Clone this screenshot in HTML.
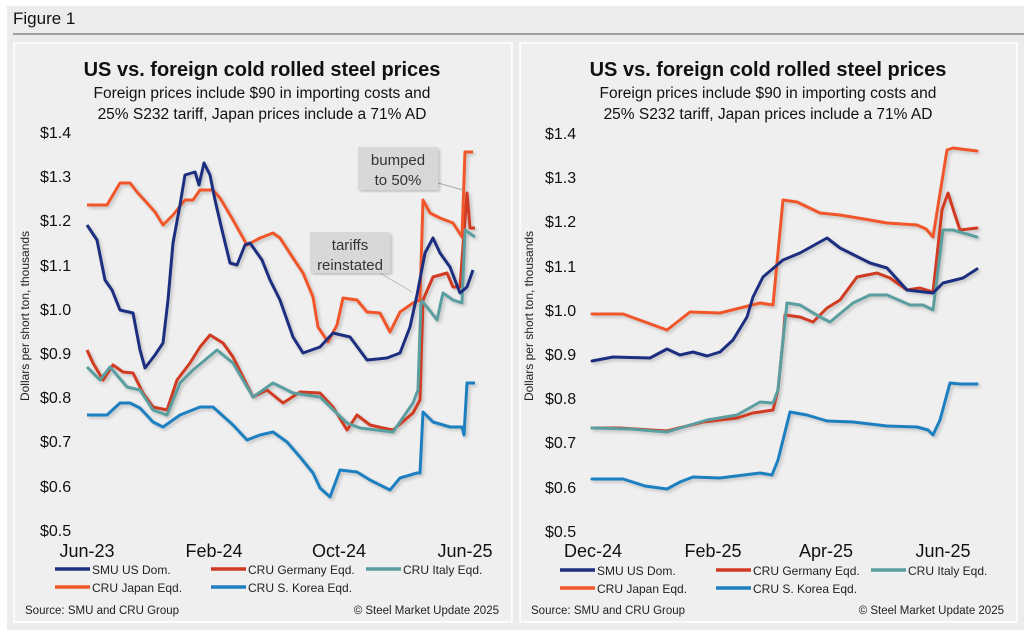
<!DOCTYPE html>
<html><head><meta charset="utf-8"><style>
html,body{margin:0;padding:0;background:#fff;}
svg{display:block;font-family:"Liberation Sans",Arial,sans-serif;}
</style></head><body>
<svg width="1024" height="630" viewBox="0 0 1024 630" xmlns="http://www.w3.org/2000/svg">
<defs>
<filter id="sh" x="-5%" y="-5%" width="110%" height="110%"><feDropShadow dx="2" dy="2" stdDeviation="1.5" flood-color="#000" flood-opacity="0.2"/></filter>
</defs>
<rect x="7" y="6" width="1017" height="624" fill="#ececec"/>
<text x="13" y="24" font-size="17" fill="#111">Figure 1</text>
<line x1="13" y1="34" x2="1024" y2="34" stroke="#555" stroke-width="1"/>
<rect x="14" y="43" width="498" height="579" fill="#efefef" stroke="#fff" stroke-width="1.5"/>
<rect x="520" y="43" width="497" height="579" fill="#efefef" stroke="#fff" stroke-width="1.5"/>

<!-- LEFT -->
<g text-anchor="middle" fill="#111">
<text x="262" y="76" font-size="20" font-weight="bold">US vs. foreign cold rolled steel prices</text>
<text x="262" y="98" font-size="15.5">Foreign prices include $90 in importing costs and</text>
<text x="262" y="119" font-size="15.5">25% S232 tariff, Japan prices include a 71% AD</text>
</g>
<g font-size="16" fill="#111">
<text x="40" y="138">$1.4</text><text x="40" y="182">$1.3</text><text x="40" y="226">$1.2</text><text x="40" y="271">$1.1</text><text x="40" y="315">$1.0</text><text x="40" y="359">$0.9</text><text x="40" y="403">$0.8</text><text x="40" y="447">$0.7</text><text x="40" y="492">$0.6</text><text x="40" y="536">$0.5</text>
</g>
<text transform="translate(29,316) rotate(-90)" font-size="12" fill="#222" text-anchor="middle">Dollars per short ton, thousands</text>
<g font-size="18" fill="#111" text-anchor="middle">
<text x="87" y="557">Jun-23</text><text x="214" y="557">Feb-24</text><text x="339" y="557">Oct-24</text><text x="465" y="557">Jun-25</text>
</g>
<g fill="none" stroke-width="3" stroke-linejoin="round" filter="url(#sh)">
<polyline stroke="#1f8fcf" stroke-opacity="1" points="87,415 107,415 120,403 130,403 140,408 153,422 163,427 180,415 200,407 213,407 233,425 247,440 260,435 273,432 287,442 300,457 313,473 320,488 330,497 340,470 357,472 370,480 390,490 400,478 417,473 420,473 423,412 433,422 450,427 462,427 464,435 467,383 475,383" style="stroke:#1f7fc0"/>
<polyline stroke="#d03a22" points="87,350 93,363 103,380 113,365 123,372 133,373 143,393 153,407 167,410 177,380 190,363 200,347 210,335 223,343 233,357 253,397 267,390 283,403 300,392 320,393 333,407 347,430 357,415 370,425 383,428 393,430 413,413 420,400 423,300 433,277 447,273 453,287 460,287 467,193 470,228 475,228"/>
<polyline stroke="#5a9ea0" points="87,367 100,380 110,367 127,387 140,390 153,410 167,415 180,383 193,370 217,350 233,363 253,397 273,383 293,393 320,397 347,423 360,428 393,432 413,403 418,390 421,300 427,307 437,320 443,293 453,300 462,303 465,230 475,237"/>
<polyline stroke="#f0572a" points="87,205 107,205 120,183 130,183 137,192 147,203 155,212 163,225 173,215 185,200 193,200 200,190 213,190 220,198 233,220 247,245 260,238 273,233 280,238 293,258 303,273 313,297 318,327 328,342 337,325 343,298 357,300 367,312 380,313 390,332 400,312 413,303 420,300 423,200 430,213 440,218 453,223 462,237 465,152 473,152"/>
<polyline stroke="#1f2f7f" points="87,225 97,240 105,280 112,290 120,310 133,313 140,350 145,368 155,355 163,343 168,300 173,243 180,205 185,175 195,172 199,185 204,163 210,175 215,200 222,230 230,263 237,265 245,245 250,243 262,260 270,280 280,300 293,337 303,353 320,347 333,333 350,337 367,360 387,358 400,353 410,327 417,295 425,253 433,238 440,253 450,267 460,293 467,287 473,270"/>
</g>
<!-- annotations -->
<line x1="438" y1="183" x2="463" y2="190" stroke="#aaa" stroke-width="1"/>
<rect x="358" y="147" width="80" height="43" fill="#d8d8d8" filter="url(#sh)"/>
<text x="398" y="165" font-size="15" text-anchor="middle" fill="#333">bumped</text>
<text x="398" y="185" font-size="15" text-anchor="middle" fill="#333">to 50%</text>
<line x1="380" y1="273" x2="412" y2="292" stroke="#bbb" stroke-width="1"/>
<rect x="310" y="232" width="80" height="41" fill="#d8d8d8" filter="url(#sh)"/>
<text x="350" y="250" font-size="15" text-anchor="middle" fill="#333">tariffs</text>
<text x="350" y="270" font-size="15" text-anchor="middle" fill="#333">reinstated</text>
<!-- legend left -->
<g stroke-width="3.5">
<line x1="55" y1="569" x2="90" y2="569" stroke="#1f2f7f"/><line x1="211" y1="569" x2="246" y2="569" stroke="#d03a22"/><line x1="366" y1="569" x2="401" y2="569" stroke="#5a9ea0"/>
<line x1="55" y1="587" x2="90" y2="587" stroke="#f0572a"/><line x1="211" y1="587" x2="246" y2="587" stroke="#1f7fc0"/>
</g>
<g font-size="12" fill="#222">
<text x="92" y="574">SMU US Dom.</text><text x="248" y="574">CRU Germany Eqd.</text><text x="403" y="574">CRU Italy Eqd.</text>
<text x="92" y="592">CRU Japan Eqd.</text><text x="248" y="592">CRU S. Korea Eqd.</text>
</g>
<text x="25" y="614" font-size="11.5" fill="#222">Source: SMU and CRU Group</text>
<text x="499" y="614" font-size="11.5" fill="#222" text-anchor="end">© Steel Market Update 2025</text>

<!-- RIGHT -->
<g text-anchor="middle" fill="#111">
<text x="768" y="76" font-size="20" font-weight="bold">US vs. foreign cold rolled steel prices</text>
<text x="768" y="98" font-size="15.5">Foreign prices include $90 in importing costs and</text>
<text x="768" y="119" font-size="15.5">25% S232 tariff, Japan prices include a 71% AD</text>
</g>
<g font-size="16" fill="#111">
<text x="545" y="139">$1.4</text><text x="545" y="183">$1.3</text><text x="545" y="227">$1.2</text><text x="545" y="272">$1.1</text><text x="545" y="316">$1.0</text><text x="545" y="360">$0.9</text><text x="545" y="404">$0.8</text><text x="545" y="448">$0.7</text><text x="545" y="493">$0.6</text><text x="545" y="537">$0.5</text>
</g>
<text transform="translate(533,316) rotate(-90)" font-size="12" fill="#222" text-anchor="middle">Dollars per short ton, thousands</text>
<g font-size="18" fill="#111" text-anchor="middle">
<text x="593" y="557">Dec-24</text><text x="713" y="557">Feb-25</text><text x="826" y="557">Apr-25</text><text x="943" y="557">Jun-25</text>
</g>
<g fill="none" stroke-width="3" stroke-linejoin="round" stroke-linecap="round" filter="url(#sh)">
<polyline stroke="#1f7fc0" points="592,479 623,479 645,486 667,489 680,482 693,477 720,478 760,473 772,475 778,460 790,412 807,415 827,421 853,422 887,426 917,427 928,430 933,435 940,420 950,383 960,384 977,384"/>
<polyline stroke="#d03a22" points="592,428 620,428 667,431 703,422 737,418 753,413 773,410 778,390 783,340 785,315 800,317 813,322 827,308 840,300 857,277 877,273 890,278 907,290 920,288 933,292 942,210 948,193 955,215 960,230 977,228"/>
<polyline stroke="#5a9ea0" points="592,428 630,429 667,432 707,420 737,415 760,402 773,403 778,390 783,340 787,303 800,305 820,317 830,322 853,303 870,295 887,295 910,305 923,305 933,310 943,230 953,230 977,237"/>
<polyline stroke="#f0572a" points="592,314 623,314 645,322 667,330 690,312 720,313 760,303 773,305 783,200 797,202 820,213 840,215 870,220 887,223 917,225 926,229 933,237 947,150 953,148 977,151"/>
<polyline stroke="#1f2f7f" points="592,361 613,357 650,358 667,349 680,355 693,352 707,356 720,352 733,340 747,317 753,297 763,277 783,260 800,253 827,238 840,248 870,263 887,268 907,290 933,293 943,283 963,278 977,269"/>
</g>
<g stroke-width="3.5">
<line x1="560" y1="570" x2="595" y2="570" stroke="#1f2f7f"/><line x1="716" y1="570" x2="751" y2="570" stroke="#d03a22"/><line x1="871" y1="570" x2="906" y2="570" stroke="#5a9ea0"/>
<line x1="560" y1="588" x2="595" y2="588" stroke="#f0572a"/><line x1="716" y1="588" x2="751" y2="588" stroke="#1f7fc0"/>
</g>
<g font-size="12" fill="#222">
<text x="597" y="575">SMU US Dom.</text><text x="753" y="575">CRU Germany Eqd.</text><text x="908" y="575">CRU Italy Eqd.</text>
<text x="597" y="593">CRU Japan Eqd.</text><text x="753" y="593">CRU S. Korea Eqd.</text>
</g>
<text x="531" y="614" font-size="11.5" fill="#222">Source: SMU and CRU Group</text>
<text x="1004" y="614" font-size="11.5" fill="#222" text-anchor="end">© Steel Market Update 2025</text>
</svg>
</body></html>
